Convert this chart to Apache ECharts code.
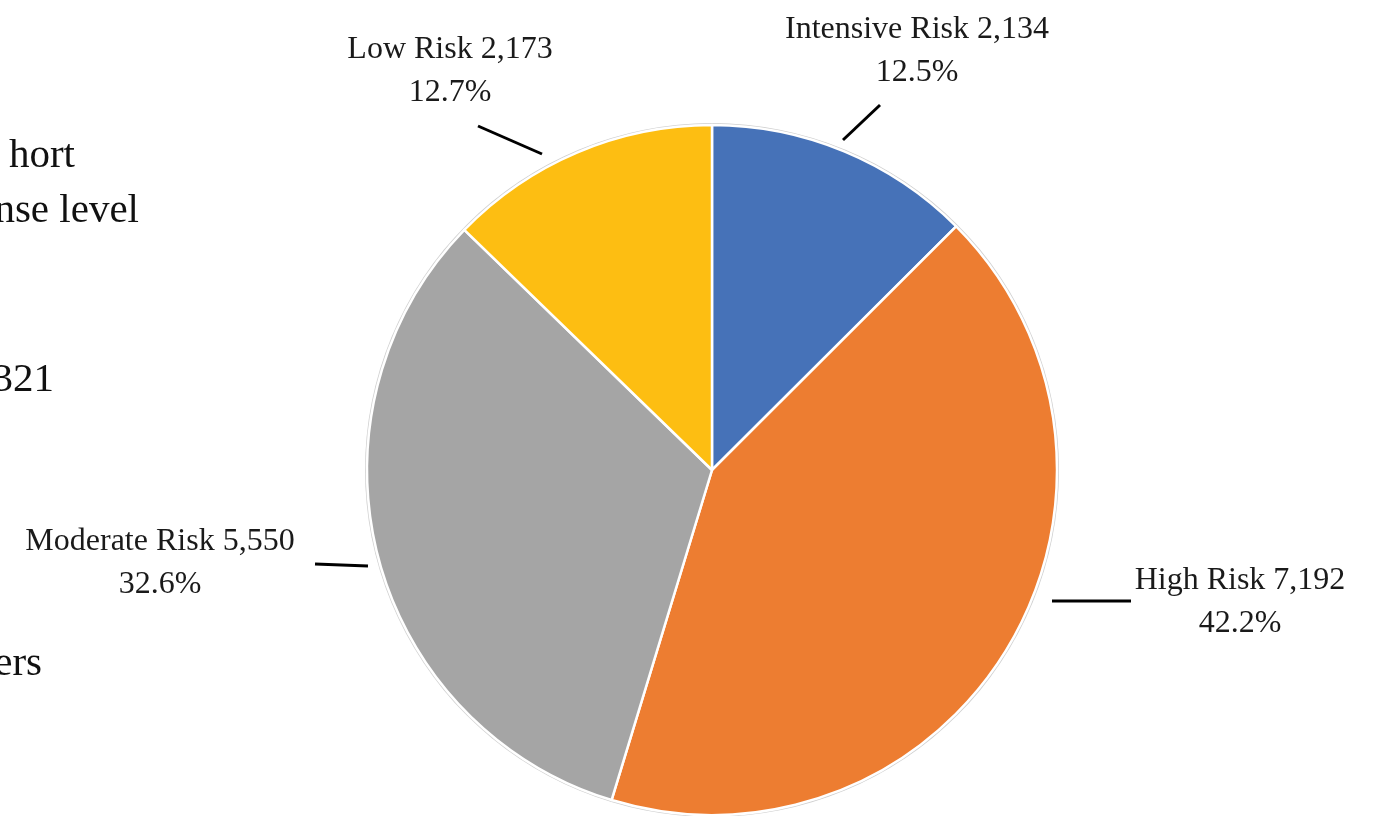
<!DOCTYPE html>
<html>
<head>
<meta charset="utf-8">
<script src="https://cdn.jsdelivr.net/npm/echarts@6/dist/echarts.min.js"></script>
<style>
html,body{margin:0;padding:0;background:#fff;}
#chart{width:1376px;height:816px;}
</style>
</head>
<body>
<div id="chart"></div>
<script>
// ---- data ----
const categories = ['Intensive Risk', 'High Risk', 'Moderate Risk', 'Low Risk'];
const counts = [2134, 7192, 5550, 2173];
const sliceColors = ['#4672B8', '#ED7D31', '#A5A5A5', '#FDBE12'];
const sideFragments = ['hort', 'nse level', '321', 'ers'];

// ---- layout (pixel offsets from pie centre) ----
const CX = 712, CY = 470, R = 345;
const labelOffsets = [
  {x: 205, y: -419, line: [[131, -330], [168, -365]]},
  {x: 528, y: 132, line: [[340, 131], [419, 131]]},
  {x: -552, y: 93, line: [[-344, 96], [-397, 94]]},
  {x: -262, y: -399, line: [[-170, -316], [-234, -344]]}
];
const fragPos = [
  {x: 75, y: 156}, {x: 139, y: 211}, {x: 54, y: 380}, {x: 42, y: 664}
];

const fmt = v => v.toLocaleString('en-US');
const FONT = '"Liberation Serif", "DejaVu Serif", serif';

const chart = echarts.init(document.getElementById('chart'), null, {renderer: 'canvas'});
chart.setOption({
  backgroundColor: '#ffffff',
  animation: false,
  graphic: sideFragments.map((t, i) => ({
    type: 'text',
    x: fragPos[i].x, y: fragPos[i].y,
    style: {text: t, font: '41px ' + FONT, fill: '#111', textAlign: 'right', textVerticalAlign: 'middle'}
  })),
  series: [
    {
      type: 'pie',
      silent: true,
      center: [CX, CY],
      radius: R + 2,
      startAngle: 90,
      data: [{value: 1, name: 'outline'}],
      itemStyle: {color: '#cfcfcf'},
      label: {show: false},
      labelLine: {show: false},
      z: 1
    },
    {
      type: 'pie',
      center: [CX, CY],
      radius: R,
      startAngle: 90,
      clockwise: true,
      percentPrecision: 1,
      z: 2,
      data: categories.map((c, i) => ({
        name: c, value: counts[i], itemStyle: {color: sliceColors[i]}
      })),
      itemStyle: {borderColor: '#ffffff', borderWidth: 2.5},
      label: {
        show: true,
        position: 'outside',
        formatter: p => p.name + ' ' + fmt(p.value) + '\n' + p.percent.toFixed(1) + '%',
        fontFamily: FONT,
        fontSize: 32,
        lineHeight: 43,
        color: '#1a1a1a',
        align: 'center'
      },
      labelLine: {show: true, lineStyle: {color: '#000', width: 3}, length: 10, length2: 10},
      labelLayout: function (params) {
        const o = labelOffsets[params.dataIndex];
        return {
          x: CX + o.x,
          y: CY + o.y,
          align: 'center',
          verticalAlign: 'middle',
          labelLinePoints: [
            [CX + o.line[0][0], CY + o.line[0][1]],
            [CX + o.line[0][0], CY + o.line[0][1]],
            [CX + o.line[1][0], CY + o.line[1][1]]
          ]
        };
      }
    }
  ]
});
</script>
</body>
</html>
